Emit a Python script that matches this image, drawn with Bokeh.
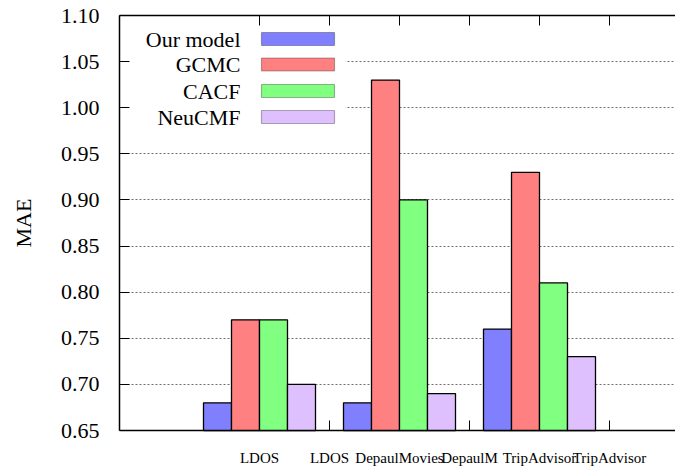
from bokeh.plotting import figure
from bokeh.models import (ColumnDataSource, Range1d, FixedTicker, LinearAxis,
                          NumeralTickFormatter, BoxAnnotation, Label)
from bokeh.transform import dodge
from bokeh.embed import file_html
from bokeh.resources import INLINE

# ---- data ----
clusters = [1, 2, 3]
our_model = [0.68, 0.68, 0.76]
gcmc = [0.77, 1.03, 0.93]
cacf = [0.77, 0.90, 0.81]
neucmf = [0.70, 0.69, 0.73]
series_names = ["Our model", "GCMC", "CACF", "NeuCMF"]
series_colors = ["#8080ff", "#ff8080", "#80ff80", "#dfc0ff"]
xtick_pos = [1, 1.5, 2, 2.5, 3, 3.5]
xtick_labels = ["LDOS", "LDOS", "DepaulMovies", "DepaulM", "TripAdvisor", "TripAdvisor"]
ytick_pos = [0.65, 0.70, 0.75, 0.80, 0.85, 0.90, 0.95, 1.00, 1.05, 1.10]
caption = "Fig. 1.   Evaluation   MAE   metric   for   the   model   and   baseline   methods"

FONT = "Liberation Serif"
W, H = 675, 468
BL, BR, BT, BB = 119, 0, 15, 37
fw = W - BL - BR
px_per_cluster = 140.0

src = ColumnDataSource(dict(x=clusters, our=our_model, gcmc=gcmc, cacf=cacf, neucmf=neucmf))

p = figure(width=W, height=H, output_backend="svg", toolbar_location=None,
           x_range=Range1d(0, fw / px_per_cluster), y_range=Range1d(0.65, 1.10),
           min_border_left=BL, min_border_right=BR, min_border_top=BT, min_border_bottom=BB,
           x_axis_location=None, y_axis_location=None)
p.outline_line_color = None
p.background_fill_color = "white"
p.border_fill_color = "white"

# caption first (partly cut off at bottom of page, as in the reference)
try:
    cap = Label(x=102, y=457, x_units="canvas", y_units="canvas", text=caption,
                text_align="left", text_baseline="top",
                text_font=FONT, text_font_size="21px", text_color="black")
except Exception:
    cap = Label(x=-17, y=-26, x_units="screen", y_units="screen", text=caption,
                text_align="left", text_baseline="top",
                text_font=FONT, text_font_size="21px", text_color="black")
p.add_layout(cap)

# axes
yax = LinearAxis(ticker=FixedTicker(ticks=ytick_pos),
                 formatter=NumeralTickFormatter(format="0.00"),
                 axis_label="MAE")
yax.major_tick_in = 10
yax.major_tick_out = 0
yax.minor_tick_line_color = None
yax.axis_line_width = 1.5
yax.axis_line_color = "black"
yax.major_tick_line_color = "black"
yax.major_label_text_font = FONT
yax.major_label_text_font_size = "22px"
yax.major_label_text_color = "black"
yax.major_label_standoff = 20
yax.axis_label_text_font = FONT
yax.axis_label_text_font_size = "22px"
yax.axis_label_text_font_style = "normal"
yax.axis_label_text_color = "black"
yax.axis_label_standoff = 22
p.add_layout(yax, "left")

xax = LinearAxis(ticker=FixedTicker(ticks=xtick_pos),
                 major_label_overrides={pos: lab for pos, lab in zip(xtick_pos, xtick_labels)})
xax.major_tick_in = 10
xax.major_tick_out = 0
xax.minor_tick_line_color = None
xax.axis_line_width = 1.5
xax.axis_line_color = "black"
xax.major_label_text_font = FONT
xax.major_label_text_font_size = "15px"
xax.major_label_text_color = "black"
xax.major_label_standoff = 19
p.add_layout(xax, "below")

tax = LinearAxis(ticker=FixedTicker(ticks=xtick_pos),
                 major_label_overrides={pos: "" for pos in xtick_pos})
tax.major_tick_in = 10
tax.major_tick_out = 0
tax.minor_tick_line_color = None
tax.axis_line_width = 1.5
tax.axis_line_color = "black"
tax.major_label_standoff = 0
p.add_layout(tax, "above")

# grid
p.ygrid.ticker = FixedTicker(ticks=ytick_pos)
p.ygrid.grid_line_color = "#6f6f6f"
p.ygrid.grid_line_dash = "2 2"
p.ygrid.grid_line_width = 1
p.xgrid.grid_line_color = None

# opaque legend background (covers grid)
p.add_layout(BoxAnnotation(left=0, right=226, bottom=301, top=420,
                           left_units="screen", right_units="screen",
                           bottom_units="screen", top_units="screen",
                           fill_color="white", fill_alpha=1.0, line_color=None,
                           level="underlay"))

# bars
cols = ["our", "gcmc", "cacf", "neucmf"]
offsets = [-0.3, -0.1, 0.1, 0.3]
for col, off, color in zip(cols, offsets, series_colors):
    r = p.vbar(x=dodge("x", off, range=p.x_range), top=col, bottom=p.y_range.start,
               width=0.2, source=src, fill_color=color, line_color="black", line_width=1.3)
    r.level = "overlay"

# legend (label left of swatch, as in the reference)
ys = [391.5, 366, 339.5, 313.5]
for name, color, yc in zip(series_names, series_colors, ys):
    p.add_layout(Label(x=121, y=yc, x_units="screen", y_units="screen", text=name,
                       text_align="right", text_baseline="middle",
                       text_font=FONT, text_font_size="22px", text_color="black"))
for name, color, yc in zip(series_names, series_colors, ys):
    p.add_layout(BoxAnnotation(left=142, right=215, bottom=yc - 6.5, top=yc + 6.5,
                               left_units="screen", right_units="screen",
                               bottom_units="screen", top_units="screen",
                               fill_color=color, fill_alpha=1.0,
                               line_color="black", line_width=1.2))

open("out.html", "w").write(file_html(p, INLINE))
